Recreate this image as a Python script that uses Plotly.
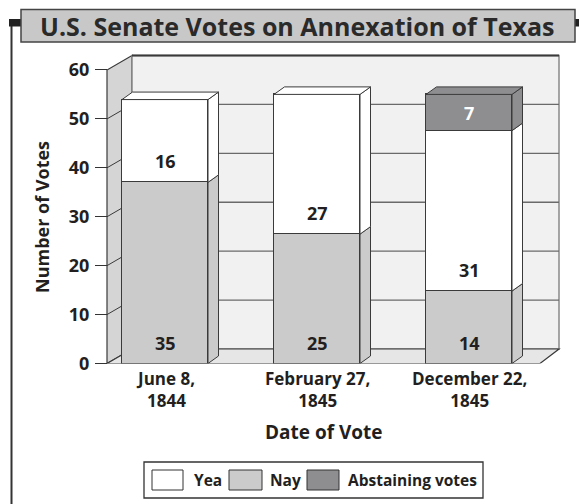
import plotly.graph_objects as go

# ---------------- data ----------------
categories = ["June 8, 1844", "February 27, 1845", "December 22, 1845"]
nay = [35, 25, 14]
yea = [16, 27, 31]
abstain = [0, 0, 7]
y_ticks = [0, 10, 20, 30, 40, 50, 60]
legend_labels = ["Yea", "Nay", "Abstaining votes"]

# ---------------- style / geometry ----------------
W, H = 579, 504
FONT = "Open Sans"
TXT = "#231f20"
EDGE = "#3a3a3a"
C_YEA, C_NAY, C_ABS = "#ffffff", "#cbcbcb", "#8e8e91"

X0PX, XSTEP = 165, 152          # pixel of category 0, px per category
Y0PX = 363.5                    # pixel of value 0
PPU_AXIS, PPU_BAR = 4.892, 5.175
DOM_L, DOM_R, DOM_T = 100, 570, 50

xr = [(DOM_L - X0PX) / XSTEP, (DOM_R - X0PX) / XSTEP]
y1r = [0, (Y0PX - DOM_T) / PPU_AXIS]
y2r = [0, (Y0PX - DOM_T) / PPU_BAR]

BAR_W = 86 / XSTEP
BDX, BDY = 10.5 / XSTEP, 7.5 / PPU_BAR        # bar depth (x units, y2 units)
WDX, WDY = 25 / XSTEP, 14.5 / PPU_AXIS       # wall depth (x units, y units)
X_FL = (107 - X0PX) / XSTEP                  # front-left of walls
X_BL = X_FL + WDX
X_FR = (540 - X0PX) / XSTEP
X_BR = (559 - X0PX) / XSTEP


def px(x):
    return x / W


def py(y):
    return 1 - y / H


xs = list(range(len(categories)))
fig = go.Figure()

for name, vals, col in [("Nay", nay, C_NAY), ("Yea", yea, C_YEA), ("Abstaining votes", abstain, C_ABS)]:
    fig.add_trace(go.Bar(
        x=xs, y=vals, name=name, yaxis="y2", width=BAR_W,
        marker=dict(color=col, line=dict(color=EDGE, width=1)),
        showlegend=False, hoverinfo="skip"))

shapes = []
# --- walls (below) ---
top = y_ticks[-1]
shapes.append(dict(type="path", xref="x", yref="y", layer="below",
                   path=f"M{X_FL},0 L{X_BL},{WDY} L{X_BL},{top + WDY} L{X_FL},{top} Z",
                   fillcolor="#d5d5d5", line=dict(color=EDGE, width=1.2)))
shapes.append(dict(type="path", xref="x", yref="y", layer="below",
                   path=f"M{X_BL},{WDY} L{X_BR},{WDY} L{X_BR},{top + WDY} L{X_BL},{top + WDY} Z",
                   fillcolor="#f1f1f1", line=dict(color="#888888", width=1.5)))
shapes.append(dict(type="line", xref="x", yref="y", layer="below",
                   x0=X_BL, x1=X_BR, y0=top + WDY, y1=top + WDY,
                   line=dict(color=EDGE, width=1.8)))
shapes.append(dict(type="path", xref="x", yref="y", layer="below",
                   path=f"M{X_FL},0 L{X_FR},0 L{X_BR},{WDY} L{X_BL},{WDY} Z",
                   fillcolor="#e6e6e6", line=dict(color=EDGE, width=1.2)))
for v in y_ticks[1:-1]:
    shapes.append(dict(type="line", xref="x", yref="y", layer="below",
                       x0=X_BL, x1=X_BR, y0=v + WDY, y1=v + WDY,
                       line=dict(color="#6a6a6a", width=1.3)))
    shapes.append(dict(type="line", xref="x", yref="y", layer="below",
                       x0=X_FL, x1=X_BL, y0=v, y1=v + WDY,
                       line=dict(color=EDGE, width=1)))

# --- 3D faces of the bars (above) ---
annotations = []
for i in xs:
    segs = []
    base = 0
    for vals, col, tcol in [(nay, C_NAY, TXT), (yea, C_YEA, TXT), (abstain, C_ABS, "white")]:
        v = vals[i]
        if v > 0:
            segs.append((base, base + v, col, tcol))
        base += v
    xr_ = i + BAR_W / 2
    xl_ = i - BAR_W / 2
    for b, t, col, tcol in segs:
        shapes.append(dict(type="path", xref="x", yref="y2", layer="above",
                           path=f"M{xr_},{b} L{xr_ + BDX},{b + BDY} L{xr_ + BDX},{t + BDY} L{xr_},{t} Z",
                           fillcolor=col, line=dict(color=EDGE, width=1)))
        seg_px = (t - b) * PPU_BAR
        annotations.append(dict(x=i, y=b, xref="x", yref="y2", xanchor="center", yanchor="middle",
                                yshift=min(21, seg_px / 2), showarrow=False,
                                text=f"<b>{t - b}</b>",
                                font=dict(family=FONT, size=18, color=tcol)))
    b, t, col, _ = segs[-1]
    shapes.append(dict(type="path", xref="x", yref="y2", layer="above",
                       path=f"M{xl_},{t} L{xl_ + BDX},{t + BDY} L{xr_ + BDX},{t + BDY} L{xr_},{t} Z",
                       fillcolor=col, line=dict(color=EDGE, width=1)))

# --- category labels ---
for i, c in enumerate(categories):
    l1, l2 = c.split(", ")
    annotations.append(dict(x=i, y=py(389), xref="x", yref="paper", xanchor="center",
                            yanchor="middle", showarrow=False, text=f"<b>{l1},<br>{l2}</b>",
                            font=dict(family=FONT, size=17, color=TXT)))

# axis titles
annotations.append(dict(x=px(324), y=py(432), xref="paper", yref="paper", showarrow=False,
                        xanchor="center", yanchor="middle",
                        text="<b>Date of Vote</b>", font=dict(family=FONT, size=19, color=TXT)))
annotations.append(dict(x=px(42), y=py(217), xref="paper", yref="paper", showarrow=False,
                        xanchor="center", yanchor="middle",
                        textangle=-90, text="<b>Number of Votes</b>",
                        font=dict(family=FONT, size=18, color=TXT)))

# --- title box & frame ---
shapes.append(dict(type="line", xref="paper", yref="paper", x0=px(11.5), x1=px(11.5),
                   y0=py(19), y1=0, line=dict(color="#333333", width=2)))
shapes.append(dict(type="rect", xref="paper", yref="paper", x0=px(9), x1=px(21),
                   y0=py(19), y1=py(26.5), fillcolor="#222222", line=dict(width=0)))
shapes.append(dict(type="rect", xref="paper", yref="paper", x0=px(575), x1=px(579),
                   y0=py(19), y1=py(26.5), fillcolor="#222222", line=dict(width=0)))
shapes.append(dict(type="rect", xref="paper", yref="paper", x0=px(21), x1=px(575),
                   y0=py(9.5), y1=py(42), fillcolor="#c8c8c8", line=dict(color="#444444", width=1.5)))
annotations.append(dict(x=px(297), y=py(26), xref="paper", yref="paper", showarrow=False,
                        xanchor="center", yanchor="middle",
                        text="<b>U.S. Senate Votes on Annexation of Texas</b>",
                        font=dict(family=FONT, size=25, color="#2a2a2a")))

# --- legend ---
shapes.append(dict(type="rect", xref="paper", yref="paper", x0=px(144), x1=px(483),
                   y0=py(462), y1=py(498), fillcolor="white", line=dict(color="#333333", width=1.3)))
for lab, col, sx0, sx1, tx in zip(legend_labels, [C_YEA, C_NAY, C_ABS],
                                  [152, 229, 307], [183, 262, 339], [192, 268, 346]):
    shapes.append(dict(type="rect", xref="paper", yref="paper", x0=px(sx0), x1=px(sx1),
                       y0=py(470), y1=py(490), fillcolor=col, line=dict(color="#333333", width=1)))
    annotations.append(dict(x=px(tx), y=py(480), xref="paper", yref="paper", xanchor="left",
                            yanchor="middle", showarrow=False, text=f"<b>{lab}</b>",
                            font=dict(family=FONT, size=15.5, color=TXT)))

fig.update_layout(
    width=W, height=H, autosize=False, margin=dict(l=0, r=0, t=0, b=0, pad=0),
    paper_bgcolor="white", plot_bgcolor="rgba(0,0,0,0)",
    barmode="stack", bargap=0,
    xaxis=dict(domain=[px(DOM_L), px(DOM_R)], range=xr, showgrid=False, zeroline=False,
               showline=False, showticklabels=False, ticks="", automargin=False),
    yaxis=dict(domain=[py(Y0PX), py(DOM_T)], range=y1r, tickvals=y_ticks, ticks="outside",
               anchor="free", position=px(107), automargin=False,
               ticklen=12, tickwidth=1.2, tickcolor="#333333", showgrid=False, zeroline=False,
               showline=False, tickfont=dict(family=FONT, size=18, color=TXT, weight="bold"),
               ticklabelstandoff=2),
    yaxis2=dict(domain=[py(Y0PX), py(DOM_T)], range=y2r, overlaying="y", visible=False,
                automargin=False),
    shapes=shapes, annotations=annotations, showlegend=False,
)

fig.write_html("out.html")
